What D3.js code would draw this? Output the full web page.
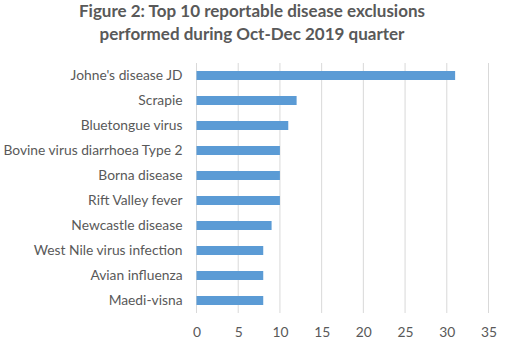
<!DOCTYPE html>
<html><head><meta charset="utf-8">
<script src="https://cdn.jsdelivr.net/npm/d3@7"></script>
<style>body{margin:0;background:#fff}svg{display:block}</style>
</head><body>
<script>
const categories = ["Johne's disease JD","Scrapie","Bluetongue virus","Bovine virus diarrhoea Type 2","Borna disease","Rift Valley fever","Newcastle disease","West Nile virus infection","Avian influenza","Maedi-visna"];
const values = [31,12,11,10,10,10,9,8,8,8];
const ticks = [0,5,10,15,20,25,30,35];
const titleLines = ["Figure 2: Top 10 reportable disease exclusions","performed during Oct-Dec 2019 quarter"];

const W=510,H=348;
const svg=d3.select("body").append("svg").attr("width",W).attr("height",H);
const font="Lato, 'Open Sans', sans-serif";
const x=d3.scaleLinear().domain([0,35]).range([196.5,488.5]);
const y=d3.scaleBand().domain(categories).range([63,313]).paddingInner(0.64).paddingOuter(0.32);

svg.append("g").selectAll("line").data(ticks).join("line")
  .attr("x1",d=>x(d)).attr("x2",d=>x(d)).attr("y1",63).attr("y2",313)
  .attr("stroke","#d9d9d9").attr("stroke-width",1);

svg.append("g").selectAll("rect").data(values).join("rect")
  .attr("x",x(0)).attr("y",(d,i)=>y(categories[i]))
  .attr("width",d=>x(d)-x(0)).attr("height",y.bandwidth())
  .attr("fill","#5b9bd5");

const ya=svg.append("g").attr("transform",`translate(${x(0)-14},0)`)
  .call(d3.axisLeft(y).tickSize(0).tickPadding(0));
ya.select(".domain").remove();
ya.selectAll("text").attr("font-family",font).attr("font-size",13.8).attr("fill","#595959");

const xa=svg.append("g").attr("transform",`translate(0,313)`)
  .call(d3.axisBottom(x).tickValues(ticks).tickSize(0).tickPadding(14));
xa.select(".domain").remove();
xa.selectAll("text").attr("font-family",font).attr("font-size",13.8).attr("fill","#595959");

svg.append("g").selectAll("text").data(titleLines).join("text")
  .attr("x",252).attr("y",(d,i)=>17+i*23).attr("text-anchor","middle")
  .attr("font-family",font).attr("font-weight","bold").attr("font-size",17)
  .attr("fill","#595959").text(d=>d);
</script>
</body></html>
